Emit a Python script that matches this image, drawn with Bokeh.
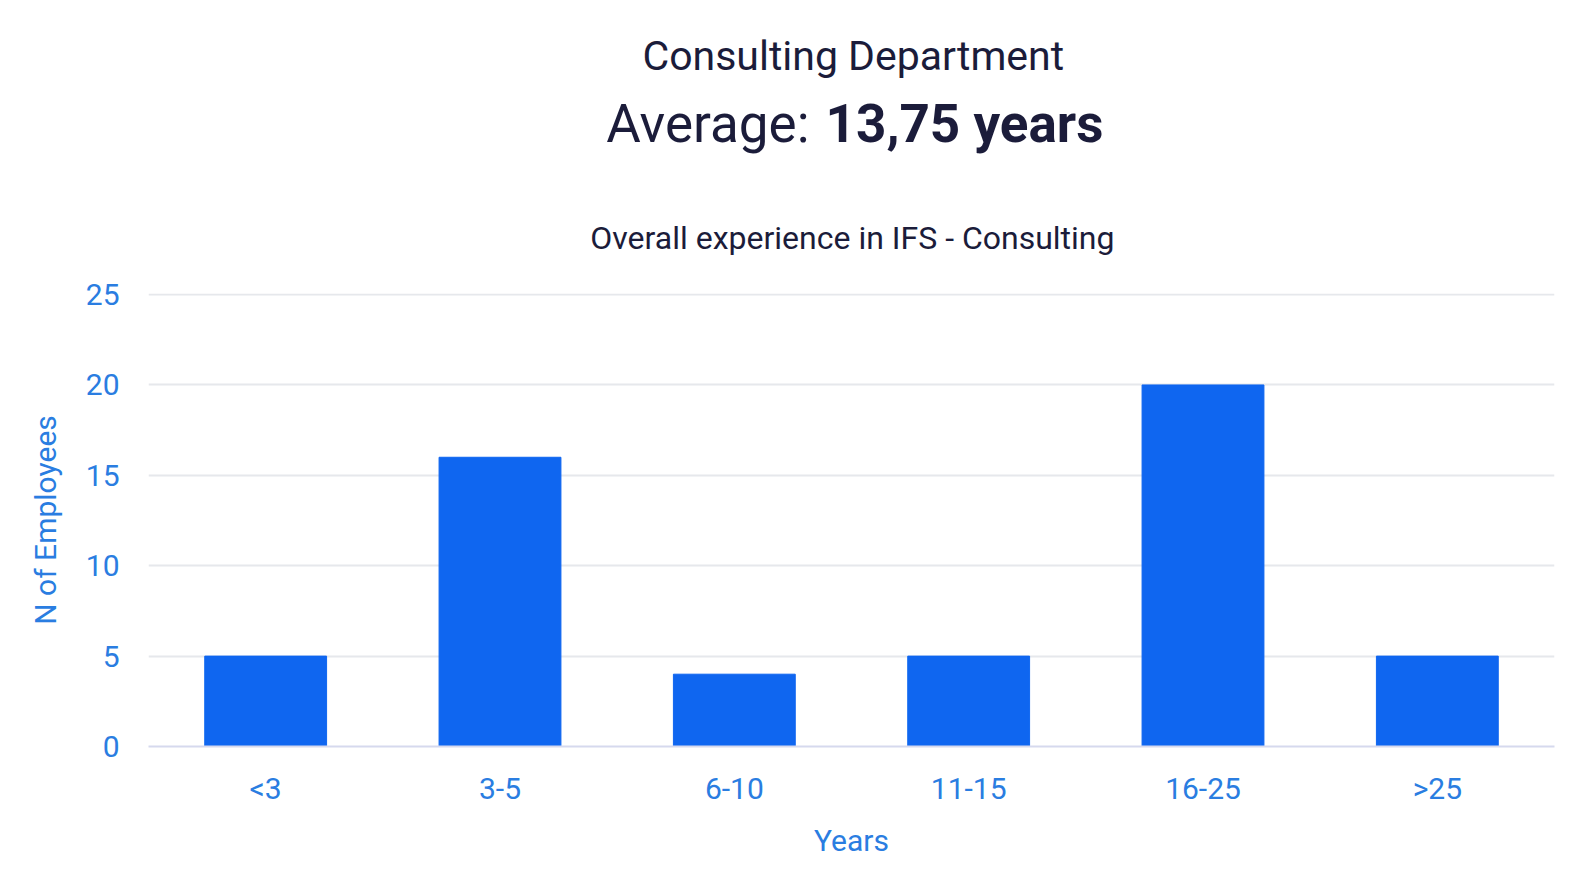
from bokeh.plotting import figure
from bokeh.models import Range1d, FixedTicker
from bokeh.layouts import column
from bokeh.core.properties import value
from bokeh.embed import file_html
from bokeh.resources import INLINE

categories = ["<3", "3-5", "6-10", "11-15", "16-25", ">25"]
employees = [5, 16, 4, 5, 20, 5]
y_ticks = [0, 5, 10, 15, 20, 25]

BLUE_TEXT = "#2a7de1"
BAR = "#0f66f0"
DARK = "#1b1c3a"
FONT = "Roboto"

W = 1572
HEAD_H = 260
MAIN_H = 600

# ---- header (titles) ----
head = figure(width=W, height=HEAD_H, x_range=Range1d(0, W), y_range=Range1d(HEAD_H, 0),
              output_backend="svg", toolbar_location=None,
              min_border=0, min_border_left=0, min_border_right=0,
              min_border_top=0, min_border_bottom=0)
head.axis.visible = False
head.grid.visible = False
head.outline_line_color = None

def add(text, x, y, size, align="center", style="normal"):
    head.text(x=[x], y=[y], text=[text], text_font=value(FONT), text_font_size=size,
              text_color=DARK, text_align=align, text_baseline="middle",
              text_font_style=style)

add("Consulting Department", 788, 55, "41px")
add("Average:", 739, 123, "53px", align="right")
add("13,75 years", 757, 123, "53px", align="left", style="bold")
add("Overall experience in IFS - Consulting", 787, 237, "32px")

# ---- main chart ----
p = figure(x_range=categories, y_range=Range1d(0, 25.06), width=W, height=MAIN_H,
           output_backend="svg", toolbar_location=None,
           min_border_left=148, min_border_right=18, min_border_top=33, min_border_bottom=114)

p.vbar(x=categories, top=employees, width=0.52, color=BAR)

p.outline_line_color = None
p.xgrid.grid_line_color = None
p.ygrid.grid_line_color = "#e6e8ec"
p.ygrid.grid_line_width = 2
p.yaxis.ticker = FixedTicker(ticks=y_ticks)

for ax in (p.xaxis[0], p.yaxis[0]):
    ax.major_tick_line_color = None
    ax.minor_tick_line_color = None
    ax.major_label_text_color = BLUE_TEXT
    ax.major_label_text_font = FONT
    ax.major_label_text_font_size = "30px"
    ax.axis_label_text_color = BLUE_TEXT
    ax.axis_label_text_font = FONT
    ax.axis_label_text_font_size = "30px"
    ax.axis_label_text_font_style = "normal"

p.yaxis.axis_line_color = None
p.xaxis.axis_line_color = "#d6d9ee"
p.xaxis.axis_line_width = 2
p.xaxis.major_label_standoff = 18
p.yaxis.major_label_standoff = 23
p.xaxis.axis_label = "Years"
p.xaxis.axis_label_standoff = 14
p.yaxis.axis_label = "N of Employees"
p.yaxis.axis_label_standoff = 20

layout = column(head, p, spacing=0)
open("out.html", "w").write(file_html(layout, INLINE))
